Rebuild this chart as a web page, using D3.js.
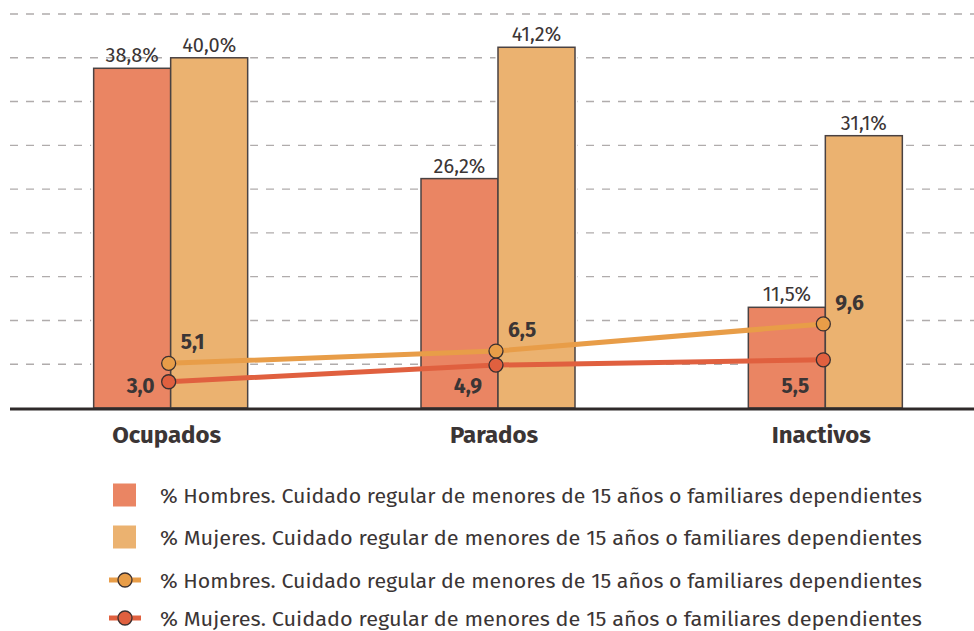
<!DOCTYPE html>
<html>
<head>
<meta charset="utf-8">
<script src="https://cdn.jsdelivr.net/npm/d3@7"></script>
<style>
  body { margin: 0; background: #fff; }
  svg { font-family: "Fira Sans", "Noto Sans", sans-serif; }
</style>
</head>
<body>
<svg width="974" height="631"></svg>
<script>
// data
let categories = ["Ocupados", "Parados", "Inactivos"];
let barHombres = [38.8, 26.2, 11.5];
let barMujeres = [40.0, 41.2, 31.1];
let lineHombres = [5.1, 6.5, 9.6];
let lineMujeres = [3.0, 4.9, 5.5];
let gridTicks = [0, 5, 10, 15, 20, 25, 30, 35, 40, 45];
let legendLabels = [
  "% Hombres. Cuidado regular de menores de 15 años o familiares dependientes",
  "% Mujeres. Cuidado regular de menores de 15 años o familiares dependientes",
  "% Hombres. Cuidado regular de menores de 15 años o familiares dependientes",
  "% Mujeres. Cuidado regular de menores de 15 años o familiares dependientes"
];

let colMen = "#ea8563";
let colWomen = "#ebb270";
let colLineMen = "#e89d48";
let colLineWomen = "#e0603f";
let dark = "#3b3535";

let svg = d3.select("svg");
let fmt = function (v) { return v.toFixed(1).replace(".", ","); };

let xScale = d3.scaleBand().domain(categories).range([7, 989]).paddingInner(0).paddingOuter(0);
let yScale = d3.scaleLinear().domain([0, 45]).range([408, 14]);
let bw = 77;

// grid
svg.append("g")
  .selectAll("line")
  .data(gridTicks.slice(1))
  .enter()
  .append("line")
  .attr("x1", 10)
  .attr("x2", 974)
  .attr("y1", d => yScale(d))
  .attr("y2", d => yScale(d))
  .attr("stroke", "#b0acac")
  .attr("stroke-width", 1.4)
  .attr("stroke-dasharray", "8,8");

function cx(c) { return xScale(c) + xScale.bandwidth() / 2; }

// bars
let groups = categories.map((c, i) => ({ c: c, m: barHombres[i], w: barMujeres[i] }));
let bars = [];
groups.forEach(g => {
  bars.push({ x: cx(g.c) - bw, v: g.m, col: colMen });
  bars.push({ x: cx(g.c), v: g.w, col: colWomen });
});

// white halo so the grid stops short of the bars
svg.append("g")
  .selectAll("rect")
  .data(bars)
  .enter()
  .append("rect")
  .attr("x", d => d.x)
  .attr("y", d => yScale(d.v))
  .attr("width", bw)
  .attr("height", d => yScale(0) - yScale(d.v))
  .attr("fill", d => d.col)
  .attr("stroke", "#fff")
  .attr("stroke-width", 5);

svg.append("g")
  .selectAll("rect")
  .data(bars)
  .enter()
  .append("rect")
  .attr("x", d => d.x)
  .attr("y", d => yScale(d.v))
  .attr("width", bw)
  .attr("height", d => yScale(0) - yScale(d.v))
  .attr("fill", d => d.col)
  .attr("stroke", "#4a4242")
  .attr("stroke-width", 1.5);

svg.append("g")
  .selectAll("text")
  .data(bars)
  .enter()
  .append("text")
  .attr("x", d => d.x + bw / 2)
  .attr("y", d => yScale(d.v) - 6)
  .attr("text-anchor", "middle")
  .attr("font-size", 20)
  .attr("fill", dark)
  .text(d => fmt(d.v) + "%");

// baseline
svg.append("line")
  .attr("x1", 10).attr("x2", 974)
  .attr("y1", yScale(0) + 1).attr("y2", yScale(0) + 1)
  .attr("stroke", "#2f2a2a")
  .attr("stroke-width", 3);

// category labels
svg.append("g")
  .selectAll("text")
  .data(categories)
  .enter()
  .append("text")
  .attr("x", d => cx(d) - 4)
  .attr("y", 443)
  .attr("text-anchor", "middle")
  .attr("font-size", 24)
  .attr("font-weight", "bold")
  .attr("fill", dark)
  .text(d => d);

// lines
let line = d3.line().x(d => d[0]).y(d => d[1]);
function drawLine(vals, col) {
  let pts = vals.map((v, i) => [cx(categories[i]) - 2, yScale(v)]);
  svg.append("path")
    .attr("d", line(pts))
    .attr("fill", "none")
    .attr("stroke", col)
    .attr("stroke-width", 5);
  svg.append("g")
    .selectAll("circle")
    .data(pts)
    .enter()
    .append("circle")
    .attr("cx", d => d[0])
    .attr("cy", d => d[1])
    .attr("r", 7)
    .attr("fill", col)
    .attr("stroke", "#3b3030")
    .attr("stroke-width", 1.3);
  return pts;
}
let ptsM = drawLine(lineHombres, colLineMen);
let ptsW = drawLine(lineMujeres, colLineWomen);

svg.append("g")
  .selectAll("text")
  .data(lineHombres)
  .enter()
  .append("text")
  .attr("x", (d, i) => ptsM[i][0] + 12)
  .attr("y", (d, i) => ptsM[i][1] - 14)
  .attr("font-size", 21)
  .attr("font-weight", "bold")
  .attr("fill", dark)
  .text(d => fmt(d));

svg.append("g")
  .selectAll("text")
  .data(lineMujeres)
  .enter()
  .append("text")
  .attr("x", (d, i) => ptsW[i][0] - 14)
  .attr("y", 393)
  .attr("text-anchor", "end")
  .attr("font-size", 21)
  .attr("font-weight", "bold")
  .attr("fill", dark)
  .text(d => fmt(d));

// legend
let legY = [495, 537, 580, 618];
let leg = svg.append("g");
leg.append("rect").attr("x", 113).attr("y", legY[0] - 11.5).attr("width", 23).attr("height", 23).attr("fill", colMen);
leg.append("rect").attr("x", 113).attr("y", legY[1] - 11.5).attr("width", 23).attr("height", 23).attr("fill", colWomen);
[[legY[2], colLineMen], [legY[3], colLineWomen]].forEach(function (r) {
  leg.append("line").attr("x1", 109).attr("x2", 141).attr("y1", r[0]).attr("y2", r[0])
    .attr("stroke", r[1]).attr("stroke-width", 5);
  leg.append("circle").attr("cx", 125).attr("cy", r[0]).attr("r", 7)
    .attr("fill", r[1]).attr("stroke", "#3b3030").attr("stroke-width", 1.3);
});
leg.selectAll("text")
  .data(legendLabels)
  .enter()
  .append("text")
  .attr("x", 160)
  .attr("y", (d, i) => legY[i] + 7.5)
  .attr("font-size", 21)
  .attr("fill", dark)
  .attr("textLength", 762)
  .attr("lengthAdjust", "spacingAndGlyphs")
  .text(d => d);
</script>
</body>
</html>
